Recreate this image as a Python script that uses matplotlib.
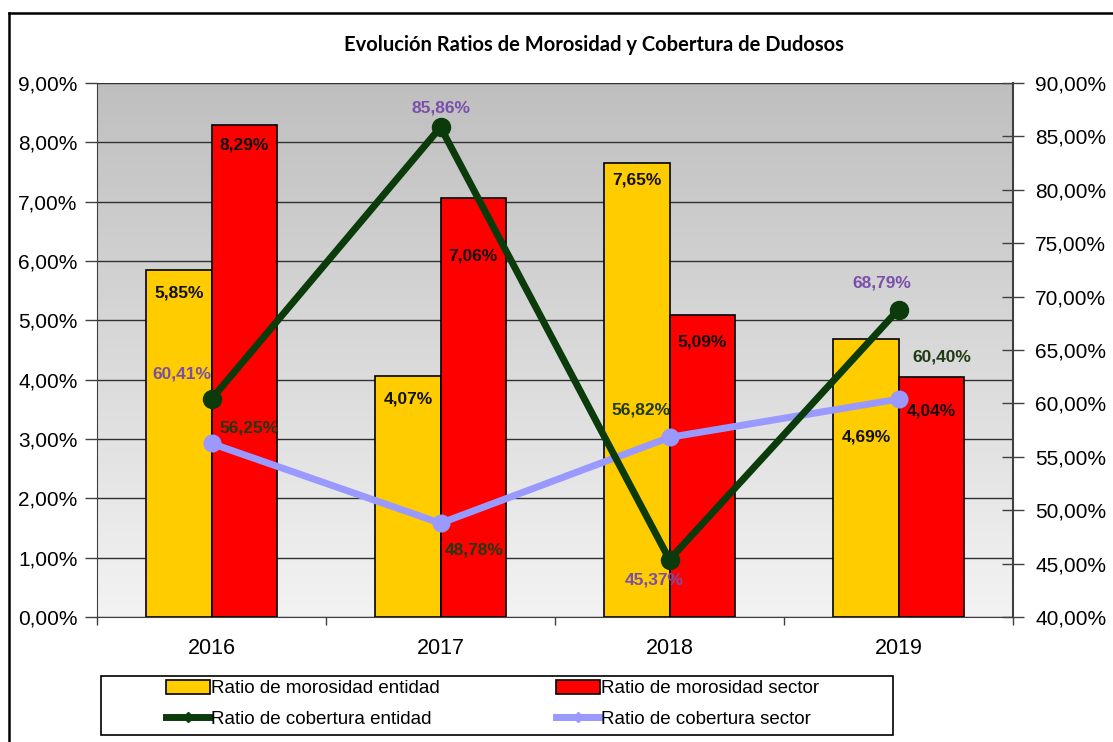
import numpy as np
import matplotlib
matplotlib.use("Agg")
import matplotlib.pyplot as plt
from matplotlib.lines import Line2D
from matplotlib.patches import Patch, Rectangle

# ---------------- data ----------------
years = ["2016", "2017", "2018", "2019"]
morosidad_entidad = [5.85, 4.07, 7.65, 4.69]
morosidad_sector = [8.29, 7.06, 5.09, 4.04]
cobertura_entidad = [60.41, 85.86, 45.37, 68.79]
cobertura_sector = [56.25, 48.78, 56.82, 60.40]

left_ticks = [0, 1, 2, 3, 4, 5, 6, 7, 8, 9]
right_ticks = [40, 45, 50, 55, 60, 65, 70, 75, 80, 85, 90]

title = "Evolución Ratios de Morosidad y Cobertura de Dudosos"
legend_labels = ["Ratio de morosidad entidad", "Ratio de morosidad sector",
                 "Ratio de cobertura entidad", "Ratio de cobertura sector"]

# label offsets (pixels) relative to the marked value
bar_ent_off = [-23, -23, -17, -98]
bar_sec_off = [-20, -58, -27, -34]
cob_ent_off = [(-30, 25), (0, 19), (-15, -20), (-17, 27)]
cob_sec_off = [(38, 15), (34, -27), (-29, 27), (43, 42)]

def fmt(v):
    return f"{v:.2f}".replace(".", ",") + "%"

# ---------------- style ----------------
YEL = "#FFCC00"
RED = "#FF0000"
GRN = "#0B3A0B"
LAV = "#9999FF"
PURPLE_TXT = "#7A4FAA"
GREEN_TXT = "#1F3A14"
AF = "Liberation Sans"

W, H = 1113, 742
fig = plt.figure(figsize=(W / 100, H / 100), dpi=100)
fig.patch.set_facecolor("white")

# outer frame (left and top lines)
fig.add_artist(Line2D([9 / W, 9 / W], [0, 1 - 13 / H], transform=fig.transFigure,
                      color="black", lw=1.8))
fig.add_artist(Line2D([9 / W, 1], [1 - 13 / H, 1 - 13 / H], transform=fig.transFigure,
                      color="black", lw=1.8))

x0, x1, y0, y1 = 97, 1013, 83, 617
ax = fig.add_axes([x0 / W, 1 - y1 / H, (x1 - x0) / W, (y1 - y0) / H])
ax.patch.set_visible(False)

# gradient background
grad = np.linspace(0, 1, 256).reshape(-1, 1)
cmap = matplotlib.colors.LinearSegmentedColormap.from_list("g", ["#BFBFBF", "#F3F3F3"])
ax.imshow(grad, aspect="auto", cmap=cmap, extent=[0, 1, 0, 1], transform=ax.transAxes,
          zorder=0, origin="upper")

x = np.arange(len(years))
bw = 0.284
b1 = ax.bar(x - bw / 2, morosidad_entidad, bw, color=YEL, edgecolor="black", lw=1.2, zorder=2)
b2 = ax.bar(x + bw / 2, morosidad_sector, bw, color=RED, edgecolor="black", lw=1.2, zorder=2)

ax.set_xlim(-0.5, 3.5)
ax.set_ylim(0, 9)
ax.set_yticks(left_ticks)
ax.set_yticklabels([fmt(v) for v in left_ticks], fontsize=15, family=AF)
ax.yaxis.grid(True, color="#303030", lw=1.0)
ax.set_axisbelow(True)
ax.tick_params(axis="y", length=9, width=1, color="#404040", pad=5)
ax.set_xticks(x)
ax.set_xticklabels(years, fontsize=15.5, family=AF)
ax.tick_params(axis="x", which="major", length=0, pad=15)
ax.set_xticks(np.arange(-0.5, 4.0, 1.0), minor=True)
ax.tick_params(axis="x", which="minor", length=6, width=1, color="#404040")
for s in ["top", "right"]:
    ax.spines[s].set_visible(False)
ax.spines["left"].set_color("#404040")
ax.spines["bottom"].set_color("#404040")

for i, v in enumerate(morosidad_entidad):
    ax.annotate(fmt(v), (x[i] - bw / 2, v), xytext=(0, bar_ent_off[i]), textcoords="offset pixels",
                ha="center", va="center", fontsize=12.5, fontweight="bold", family=AF,
                color="#111111", zorder=5)
for i, v in enumerate(morosidad_sector):
    ax.annotate(fmt(v), (x[i] + bw / 2, v), xytext=(0, bar_sec_off[i]), textcoords="offset pixels",
                ha="center", va="center", fontsize=12.5, fontweight="bold", family=AF,
                color="#111111", zorder=5)

ax2 = ax.twinx()
ax2.set_ylim(40, 90)
ax2.set_yticks(right_ticks)
ax2.set_yticklabels([fmt(v) for v in right_ticks], fontsize=15, family=AF)
ax2.tick_params(axis="y", direction="inout", length=16, width=1, color="#404040", pad=8)
for s in ["top", "left", "bottom"]:
    ax2.spines[s].set_visible(False)
ax2.spines["right"].set_color("#404040")
ax2.spines["right"].set_linewidth(1.5)

ax2.plot(x, cobertura_sector, color=LAV, lw=5, marker="o", ms=12, zorder=3, solid_capstyle="round")
ax2.plot(x, cobertura_entidad, color=GRN, lw=5, marker="o", ms=13, zorder=4, solid_capstyle="round")

for i, v in enumerate(cobertura_entidad):
    ax2.annotate(fmt(v), (x[i], v), xytext=cob_ent_off[i], textcoords="offset pixels",
                 ha="center", va="center", fontsize=12.5, fontweight="bold", family=AF,
                 color=PURPLE_TXT, zorder=6)
for i, v in enumerate(cobertura_sector):
    ax2.annotate(fmt(v), (x[i], v), xytext=cob_sec_off[i], textcoords="offset pixels",
                 ha="center", va="center", fontsize=12.5, fontweight="bold", family=AF,
                 color=GREEN_TXT, zorder=6)

# title
fig.text(594 / W, 1 - 45 / H, title, ha="center", va="center", fontsize=14.5,
         fontweight="bold", family="Lato")

# legend
handles = [
    Patch(facecolor=YEL, edgecolor="black", lw=1.2),
    Line2D([], [], color=GRN, lw=5, marker="D", ms=5),
    Patch(facecolor=RED, edgecolor="black", lw=1.2),
    Line2D([], [], color=LAV, lw=5, marker="D", ms=5),
]
labels = [legend_labels[0], legend_labels[2], legend_labels[1], legend_labels[3]]
fig.add_artist(Rectangle((101 / W, 1 - 735 / H), 792 / W, 59 / H, transform=fig.transFigure,
                         facecolor="white", edgecolor="black", lw=1.2))
leg = fig.legend(handles, labels, ncol=2, loc="center", bbox_to_anchor=(493 / W, 1 - 704 / H),
                 frameon=False, prop={"family": AF, "size": 13.5}, handlelength=2.3,
                 handleheight=0.8, handletextpad=0.1, columnspacing=6.2, labelspacing=0.7,
                 numpoints=1)

fig.savefig("out.png", dpi=100)
